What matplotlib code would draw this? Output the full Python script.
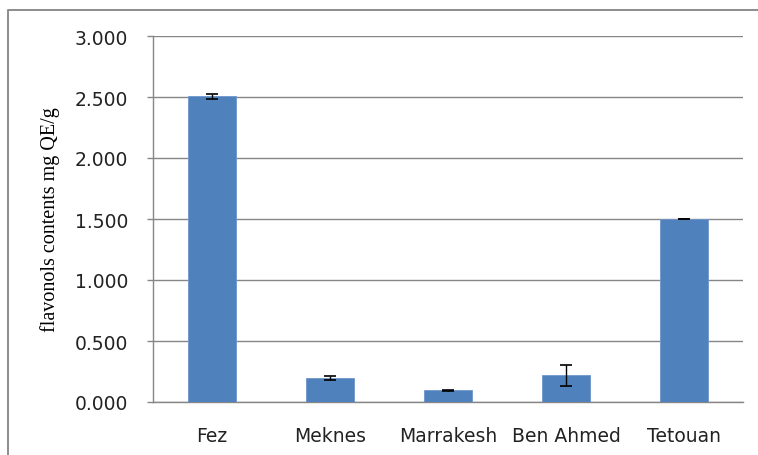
import matplotlib
matplotlib.use("Agg")

import matplotlib.pyplot as plt
from matplotlib.lines import Line2D

# Data
cities = ["Fez", "Meknes", "Marrakesh", "Ben Ahmed", "Tetouan"]
flavonols = [2.505, 0.195, 0.095, 0.220, 1.500]
errors = [0.018, 0.015, 0.004, 0.085, 0.004]
y_ticks = [0.0, 0.5, 1.0, 1.5, 2.0, 2.5, 3.0]

W, H, DPI = 758, 456, 100
fig = plt.figure(figsize=(W / DPI, H / DPI), dpi=DPI)
fig.patch.set_facecolor("white")

# Outer chart frame (Excel style), only top and left edges are in view
fx, fy = 8 / W, 1 - 11 / H
fig.lines.append(Line2D([fx, fx, 1.0], [0.0, fy, fy], transform=fig.transFigure,
                        color="#8c8c8c", linewidth=1.4))

ax = fig.add_axes([153 / W, 1 - 403 / H, 590 / W, 366 / H])

x = range(len(cities))
ax.bar(x, flavonols, width=0.4, color="#4f81bd", edgecolor="#6f97cc",
       linewidth=0.6, zorder=3)
ax.errorbar(x, flavonols, yerr=errors, fmt="none", ecolor="black",
            elinewidth=1.0, capsize=4.5, capthick=1.2, zorder=4)

ax.set_xlim(-0.5, len(cities) - 0.5)
ax.set_ylim(0, 3.0)
ax.set_yticks(y_ticks)
ax.set_yticklabels([f"{v:.3f}" for v in y_ticks], fontsize=13.5,
                   family="DejaVu Sans", color="#222222")
ax.set_xticks(list(x))
ax.set_xticklabels(cities, fontsize=13.5, family="DejaVu Sans",
                   color="#222222")
ax.tick_params(axis="x", length=0, pad=17)
ax.tick_params(axis="y", length=4.3, width=1, color="#868686", pad=13.5)

ax.yaxis.grid(True, color="#868686", linewidth=1, zorder=0)
ax.set_axisbelow(True)
for side in ("top", "right"):
    ax.spines[side].set_visible(False)
for side in ("left", "bottom"):
    ax.spines[side].set_color("#868686")
    ax.spines[side].set_linewidth(1)

ax.set_ylabel("flavonols contents mg QE/g", fontsize=14.5,
              family="Liberation Serif", labelpad=11)

fig.savefig("out.png", dpi=DPI)
